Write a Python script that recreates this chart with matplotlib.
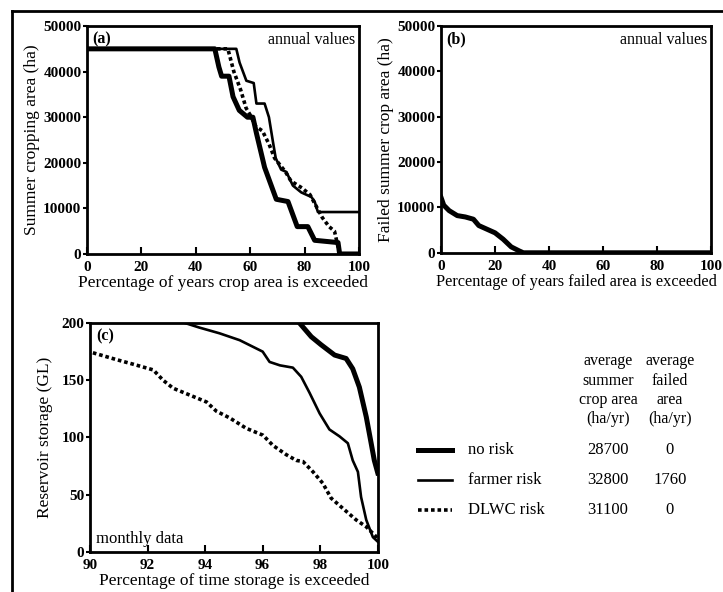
import matplotlib.pyplot as plt
from matplotlib.lines import Line2D

plt.rcParams['font.family'] = ['Liberation Serif', 'DejaVu Serif']

# ---- (a) summer cropping area exceedance ----
a_none_x = [0, 47, 48.5, 49.5, 52.2, 53.7, 56, 59, 61, 62.3, 65.3, 69.6, 73.9, 77.3, 81.2, 83.7, 92.3, 92.9, 100]
a_none_y = [45000, 45000, 41000, 39000, 39000, 34500, 31500, 30000, 30000, 26500, 19000, 12000, 11500, 6000, 6000, 3000, 2500, 0, 0]

a_farm_x = [0, 54.9, 56.1, 58.6, 61.3, 62.3, 65.3, 66.9, 68.4, 69.4, 71.4, 73.3, 75.7, 78.8, 82.5, 83.7, 84.9, 100]
a_farm_y = [45000, 45000, 42000, 38000, 37500, 33000, 33000, 30000, 24500, 21000, 18500, 18000, 15000, 13500, 12500, 11500, 9200, 9200]

a_dlwc_x = [0, 51.8, 54, 56.5, 58.5, 60, 62, 64.5, 67, 69, 73, 75, 79, 82, 86.5, 89, 91, 92.9, 100]
a_dlwc_y = [45000, 45000, 40000, 36000, 32000, 30500, 28000, 27000, 24000, 21000, 18000, 16000, 14500, 13000, 8000, 6000, 5000, 0, 0]

# ---- (b) failed summer crop area (farmer risk) ----
b_x = [0, 1, 3, 6, 9, 12, 14, 17, 20, 23, 26, 29, 30.5, 100]
b_y = [12200, 10500, 9300, 8200, 7900, 7400, 6000, 5200, 4400, 3000, 1300, 400, 0, 0]

# ---- (c) reservoir storage, monthly ----
c_none_x = [97.28, 97.69, 98.03, 98.5, 98.9, 99.13, 99.36, 99.6, 99.77, 99.88, 100]
c_none_y = [200, 188, 181, 172, 169, 160, 144, 118, 95, 80, 69]

c_farm_x = [93.3, 93.8, 94.5, 95.2, 96.0, 96.24, 96.6, 97.05, 97.34, 97.63, 97.98, 98.32, 98.67,
            98.96, 99.13, 99.31, 99.42, 99.6, 99.83, 100]
c_farm_y = [200, 196, 191, 185, 175, 166, 163, 161, 153, 139, 121, 107, 101, 95, 80, 70, 48, 28, 13, 9]

c_dlwc_x = [90.1, 90.92, 91.5, 92.2, 92.54, 92.89, 93.47, 94.05, 94.39, 94.86, 95.43, 96.01, 96.36,
            96.82, 97.17, 97.4, 97.75, 98.09, 98.38, 98.79, 99.25, 99.6, 100]
c_dlwc_y = [174, 168, 164, 159, 150, 143, 137, 131, 123, 117, 108, 102, 93, 85, 80, 79, 70, 60, 47,
            38, 28, 22, 12]

scenarios = ["no risk", "farmer risk", "DLWC risk"]
avg_crop = ["28700", "32800", "31100"]
avg_failed = ["0", "1760", "0"]

styles = [dict(color="black", lw=3.6, ls="-"),
          dict(color="black", lw=1.9, ls="-"),
          dict(color="black", lw=2.6, ls=(0, (1, 0.8)))]

fig = plt.figure(figsize=(7.23, 5.92), dpi=100)

# page frame (top and left edges visible in the scan)
fig.add_artist(Line2D([0.0166, 0.0166], [0, 0.981], color="black", lw=2))
fig.add_artist(Line2D([0.0166, 1.0], [0.981, 0.981], color="black", lw=2))

ax_a = fig.add_axes([0.1203, 0.571, 0.3762, 0.385])
ax_b = fig.add_axes([0.610, 0.573, 0.3734, 0.383])
ax_c = fig.add_axes([0.1245, 0.0676, 0.398, 0.3868])


def style_axes(ax):
    for s in ax.spines.values():
        s.set_linewidth(2)
    ax.tick_params(axis="x", direction="in", length=5, width=1.5, pad=5, labelsize=11)
    ax.tick_params(axis="y", direction="out", length=3, width=1.5, pad=1, labelsize=11)
    for lab in ax.get_xticklabels() + ax.get_yticklabels():
        lab.set_fontweight("bold")


ax_a.plot(a_none_x, a_none_y, **styles[0])
ax_a.plot(a_farm_x, a_farm_y, **styles[1])
ax_a.plot(a_dlwc_x, a_dlwc_y, **styles[2])
ax_a.set_xlim(0, 100)
ax_a.set_ylim(0, 50000)
ax_a.set_xticks([0, 20, 40, 60, 80, 100])
ax_a.set_yticks([0, 10000, 20000, 30000, 40000, 50000])
ax_a.set_xlabel("Percentage of years crop area is exceeded", fontsize=12.5, labelpad=1)
ax_a.set_ylabel("Summer cropping area (ha)", fontsize=12.5, labelpad=2)
ax_a.text(0.02, 0.975, "(a)", transform=ax_a.transAxes, ha="left", va="top",
          fontsize=11.5, fontweight="bold")
ax_a.text(0.985, 0.975, "annual values", transform=ax_a.transAxes, ha="right", va="top",
          fontsize=11.5)
style_axes(ax_a)

ax_b.plot(b_x, b_y, **styles[0])
ax_b.set_xlim(0, 100)
ax_b.set_ylim(0, 50000)
ax_b.set_xticks([0, 20, 40, 60, 80, 100])
ax_b.set_yticks([0, 10000, 20000, 30000, 40000, 50000])
ax_b.set_xlabel("Percentage of years failed area is exceeded", fontsize=11.8, labelpad=1)
ax_b.set_ylabel("Failed summer crop area (ha)", fontsize=12.5, labelpad=2)
ax_b.text(0.02, 0.975, "(b)", transform=ax_b.transAxes, ha="left", va="top",
          fontsize=11.5, fontweight="bold")
ax_b.text(0.985, 0.975, "annual values", transform=ax_b.transAxes, ha="right", va="top",
          fontsize=11.5)
style_axes(ax_b)

ax_c.plot(c_none_x, c_none_y, **styles[0])
ax_c.plot(c_farm_x, c_farm_y, **styles[1])
ax_c.plot(c_dlwc_x, c_dlwc_y, **styles[2])
ax_c.set_xlim(90, 100)
ax_c.set_ylim(0, 200)
ax_c.set_xticks([90, 92, 94, 96, 98, 100])
ax_c.set_yticks([0, 50, 100, 150, 200])
ax_c.set_xlabel("Percentage of time storage is exceeded", fontsize=12.5, labelpad=1)
ax_c.set_ylabel("Reservoir storage (GL)", fontsize=12.5, labelpad=6)
ax_c.text(0.02, 0.975, "(c)", transform=ax_c.transAxes, ha="left", va="top",
          fontsize=11.5, fontweight="bold")
ax_c.text(0.02, 0.02, "monthly data", transform=ax_c.transAxes, ha="left", va="bottom",
          fontsize=12)
style_axes(ax_c)

# ---- legend table ----
col1_x, col2_x = 608 / 723, 670 / 723
head_rows = [("average", "average"), ("summer", "failed"), ("crop area", "area"), ("(ha/yr)", "(ha/yr)")]
head_y = [361, 381, 400, 419]
for (h1, h2), y in zip(head_rows, head_y):
    fy = 1 - y / 592
    fig.text(col1_x, fy, h1, ha="center", va="center", fontsize=11.5)
    fig.text(col2_x, fy, h2, ha="center", va="center", fontsize=11.5)

row_y = [450, 480, 510]
for name, c1, c2, st, y in zip(scenarios, avg_crop, avg_failed, styles, row_y):
    fy = 1 - y / 592
    fig.add_artist(Line2D([418 / 723, 452 / 723], [fy, fy], **st))
    fig.text(468 / 723, fy, name, ha="left", va="center", fontsize=12)
    fig.text(col1_x, fy, c1, ha="center", va="center", fontsize=12)
    fig.text(col2_x, fy, c2, ha="center", va="center", fontsize=12)

fig.savefig("out.png", dpi=100)
